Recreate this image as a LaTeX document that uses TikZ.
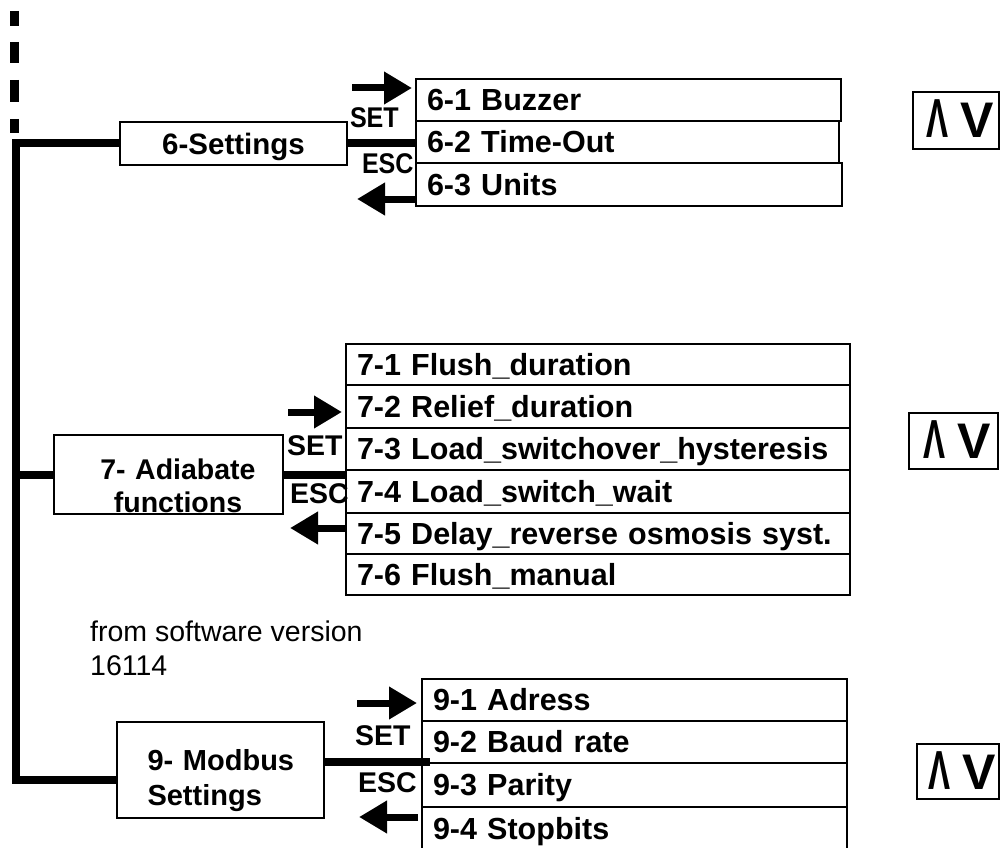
\documentclass[tikz,border=0pt]{standalone}
\usepackage{fontspec}
\setmainfont{Liberation Sans}
\usepackage{graphicx}
\usetikzlibrary{arrows.meta}
\newcommand\sqz[1]{\scalebox{0.88}[1]{#1}}
\newcommand\avsym{{\fontsize{50}{50}\selectfont\bfseries\hspace*{8pt}\scalebox{0.66}[1.1]{Λ}\hspace{12pt}V}}
\tikzset{
  lbl/.style={font=\fontsize{28.5}{34}\selectfont\bfseries, inner sep=0pt, outer sep=0pt},
  mainbox/.style={draw, line width=2pt, inner sep=0pt, outer sep=0pt, font=\fontsize{29.5}{34}\selectfont\bfseries},
  itemrow/.style={draw, line width=2.5pt, anchor=north west, inner xsep=11pt, inner ysep=0pt, outer sep=0pt,
     align=left, text height=21.8pt, text depth=0pt, font=\fontsize{30.5}{34}\selectfont\bfseries},
  bus/.style={line width=8pt, line cap=butt, line join=miter},
  keyarrow/.style={line width=7pt, line cap=butt, -{Triangle[length=28pt,width=31pt]}},
  avbox/.style={draw, line width=2.5pt, inner sep=0pt, outer sep=0pt, text height=35pt, text depth=0pt}
}
\begin{document}
\begin{tikzpicture}[x=1pt,y=-1pt]
\useasboundingbox (0,0) rectangle (1001,848);

% dashed continuation at top
\coordinate (d0) at (14.5,11);
\coordinate (d1) at (14.5,133);
\draw[line width=9pt, dash pattern=on 15pt off 16pt on 21pt off 17pt on 22pt off 17pt on 14pt off 50pt] (d0) -- (d1);

% main menu boxes
\node[mainbox, minimum width=227pt, minimum height=43pt, text height=21pt, text depth=0pt] (s6) at (233.5,143.5) {6-Settings};
\node[mainbox, minimum width=229pt, minimum height=79pt, text width=210pt, align=center, text depth=11pt,
      font=\fontsize{28.5}{33}\selectfont\bfseries] (s7) at (168.5,474.5) {\hspace*{19pt}7- Adiabate\\\hspace*{19pt}functions};
\node[mainbox, minimum width=207pt, minimum height=96pt, text width=175pt, align=left, text depth=20pt,
      font=\fontsize{29}{35}\selectfont\bfseries] (s9) at (220.5,770) {\hspace*{14.5pt}\mbox{9- Modbus}\\\hspace*{14.5pt}\mbox{Settings}};

% sub-menu 6
\node[itemrow, minimum width=425pt, minimum height=42pt, text width=403pt] (r61) at (416,79) {6-1 Buzzer};
\node[itemrow, minimum width=423pt, minimum height=42pt, text width=401pt] (r62) at (416,121) {6-2 Time-Out};
\node[itemrow, minimum width=426pt, minimum height=43pt, text width=404pt] (r63) at (416,163) {6-3 Units};

% sub-menu 7
\node[itemrow, minimum width=504pt, minimum height=41pt, text width=482pt] (r71) at (346,344) {7-1 Flush\_duration};
\node[itemrow, minimum width=504pt, minimum height=43pt, text width=482pt] (r72) at (346,385) {7-2 Relief\_duration};
\node[itemrow, minimum width=504pt, minimum height=42pt, text width=482pt] (r73) at (346,428) {7-3 Load\_switchover\_hysteresis};
\node[itemrow, minimum width=504pt, minimum height=43pt, text width=482pt] (r74) at (346,470) {7-4 Load\_switch\_wait};
\node[itemrow, minimum width=504pt, minimum height=41pt, text width=482pt] (r75) at (346,513) {7-5 Delay\_reverse osmosis syst.};
\node[itemrow, minimum width=504pt, minimum height=41pt, text width=482pt] (r76) at (346,554) {7-6 Flush\_manual};

% sub-menu 9
\node[itemrow, minimum width=425pt, minimum height=42pt, text width=403pt] (r91) at (422,679) {9-1 Adress};
\node[itemrow, minimum width=425pt, minimum height=42pt, text width=403pt] (r92) at (422,721) {9-2 Baud rate};
\node[itemrow, minimum width=425pt, minimum height=44pt, text width=403pt] (r93) at (422,763) {9-3 Parity};
\node[itemrow, minimum width=425pt, minimum height=44pt, text width=403pt] (r94) at (422,807) {9-4 Stopbits};

% bus lines
\coordinate (bt) at (16,143.5);
\coordinate (bb) at (16,780);
\coordinate (j7) at (16,474.5);
\draw[bus] (s6.west) -- (bt) -- (bb) -- (s9.west |- bb);
\draw[bus] (j7) -- (s7.west);
\draw[bus] (s6.east) -- (s6.east -| r62.west);
\draw[bus] (s7.east) -- (s7.east -| r73.west);
\coordinate (c9) at (430,762);
\draw[bus] (s9.east |- c9) -- (c9);

% SET / ESC arrows
\coordinate (a6s) at (352,88);  \coordinate (a6e) at (412,88);
\coordinate (b6s) at (417,199); \coordinate (b6e) at (357,199);
\coordinate (a7s) at (288,412); \coordinate (a7e) at (342,412);
\coordinate (b7s) at (345,528); \coordinate (b7e) at (290,528);
\coordinate (a9s) at (357,703); \coordinate (a9e) at (417,703);
\coordinate (b9s) at (418,817); \coordinate (b9e) at (359,817);
\draw[keyarrow] (a6s) -- (a6e);
\draw[keyarrow] (b6s) -- (b6e);
\draw[keyarrow] (a7s) -- (a7e);
\draw[keyarrow] (b7s) -- (b7e);
\draw[keyarrow] (a9s) -- (a9e);
\draw[keyarrow] (b9s) -- (b9e);

% SET / ESC labels
\node[lbl, anchor=base west] (set6) at (350,128) {\sqz{SET}};
\node[lbl, anchor=base west] (esc6) at (362,173) {\sqz{ESC}};
\node[lbl, anchor=base west] (set7) at (287,455) {SET};
\node[lbl, anchor=base west] (esc7) at (290,503) {ESC};
\node[lbl, anchor=base west] (set9) at (355,745) {SET};
\node[lbl, anchor=base west] (esc9) at (358,792) {ESC};

% up/down key boxes
\node[avbox, minimum width=86pt, minimum height=57pt] (av6) at (956,120.5) {\avsym};
\node[avbox, minimum width=89pt, minimum height=56pt] (av7) at (953.5,441) {\avsym};
\node[avbox, minimum width=82pt, minimum height=55pt] (av9) at (958,771.5) {\avsym};

% note
\node[anchor=north west, inner sep=0pt, align=left, font=\fontsize{28.5}{34}\selectfont] (note) at (90,621) {from software version\\16114};
\end{tikzpicture}
\end{document}
